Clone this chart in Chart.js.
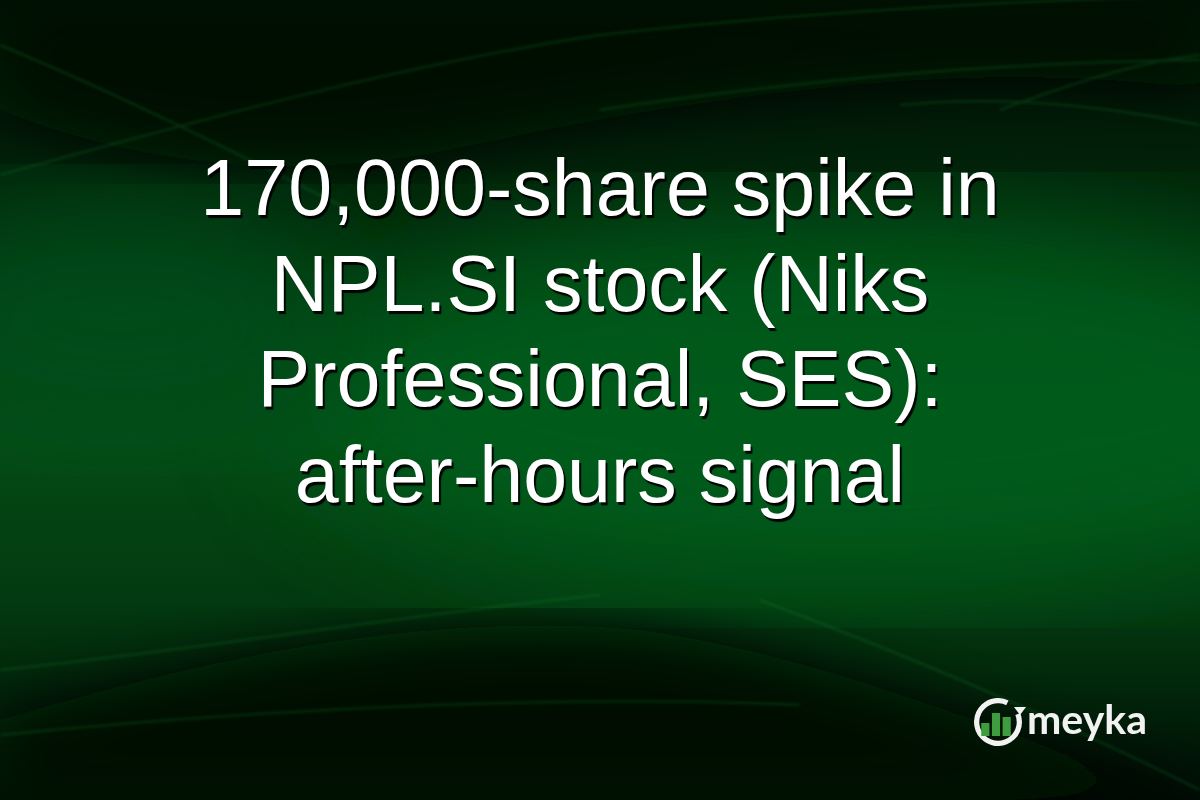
<!DOCTYPE html>
<html>
<head>
<meta charset="utf-8">
<script src="https://cdn.jsdelivr.net/npm/chart.js@4.4.1/dist/chart.umd.min.js"></script>
<style>
  html, body { margin: 0; padding: 0; background: #021f09; }
  #stage { position: relative; width: 1200px; height: 800px; overflow: hidden; }
  #bg { position: absolute; left: 0; top: 0; }
  #title {
    position: absolute; left: 0; top: 140px; width: 1200px;
    text-align: center; color: #fff;
    font-family: "Liberation Sans", Arial, sans-serif; font-size: 79px; line-height: 95.5px;
    text-shadow: 2px 3px 1px rgba(0,0,0,0.95);
  }
  #ringBox { position: absolute; left: 974px; top: 698px; width: 48px; height: 48px; }
  #barBox { position: absolute; left: 980px; top: 705px; width: 32px; height: 31px; }
  #arrow {
    position: absolute; left: 1014px; top: 707px; width: 0; height: 0;
    border-left: 6px solid transparent; border-right: 6px solid transparent;
    border-top: 8px solid #f2f2f2;
  }
  #brand {
    position: absolute; left: 1027px; top: 694px; color: #f2f2f2;
    font-family: Lato, "Open Sans", sans-serif; font-weight: 700; font-size: 41px; line-height: 50px;
  }
</style>
</head>
<body>
<div id="stage">
  <svg id="bg" width="1200" height="800" viewBox="0 0 1200 800">
    <defs>
      <linearGradient id="base" x1="0" y1="0" x2="0" y2="1">
        <stop offset="0" stop-color="#010c03"/>
        <stop offset="0.3" stop-color="#022c0c"/>
        <stop offset="0.55" stop-color="#044a15"/>
        <stop offset="0.75" stop-color="#033a10"/>
        <stop offset="1" stop-color="#010d04"/>
      </linearGradient>
      <filter id="b60"><feGaussianBlur stdDeviation="60"/></filter>
      <filter id="b30"><feGaussianBlur stdDeviation="30"/></filter>
      <filter id="b2"><feGaussianBlur stdDeviation="1.5"/></filter>
    </defs>
    <rect width="1200" height="800" fill="url(#base)"/>
    <ellipse cx="850" cy="400" rx="560" ry="190" fill="#06601c" opacity="0.8" filter="url(#b60)"/>
    <ellipse cx="120" cy="320" rx="240" ry="130" fill="#05531a" opacity="0.7" filter="url(#b60)"/>
    <path d="M0,0 H1200 V90 C1000,60 750,85 450,150 C300,180 150,170 0,110 Z" fill="#000801" opacity="0.85" filter="url(#b30)"/>
    <path d="M0,800 V720 C200,660 420,610 640,630 C850,660 1000,740 1200,790 V800 Z" fill="#000c03" opacity="0.95" filter="url(#b30)"/>
    <g fill="none" stroke="#1c9a36" stroke-width="2" opacity="0.25" filter="url(#b2)">
      <path d="M0,175 C200,120 400,65 600,35 C800,12 1000,2 1200,-5"/>
      <path d="M600,110 C800,80 1000,62 1200,60"/>
      <path d="M900,105 C1000,95 1100,105 1200,125"/>
      <path d="M1000,110 C1080,80 1150,60 1200,55"/>
      <path d="M0,45 C120,95 230,150 340,205"/>
      <path d="M0,670 C200,650 400,615 600,595"/>
      <path d="M0,735 C300,705 600,695 800,705"/>
      <path d="M760,600 C920,660 1060,720 1200,790"/>
    </g>
  </svg>

  <div id="title">170,000-share spike in<br>NPL.SI stock (Niks<br>Professional, SES):<br>after-hours signal</div>

  <div id="ringBox"><canvas id="ringChart"></canvas></div>
  <div id="barBox"><canvas id="barChart"></canvas></div>
  <div id="arrow"></div>
  <div id="brand">meyka</div>
</div>

<script>
const ringParts = [318, 42];
const ringColors = ['#f2f2f2', 'rgba(0,0,0,0)'];
const barLabels = ['a', 'b', 'c'];
const barValues = [13, 23, 19];
const barColor = '#3f9c3f';

new Chart(document.getElementById('ringChart'), {
  type: 'doughnut',
  data: { labels: ['ring', 'gap'], datasets: [{ data: ringParts, backgroundColor: ringColors, borderWidth: 0 }] },
  options: {
    responsive: true, maintainAspectRatio: false, animation: false, cutout: '78%', rotation: 68,
    plugins: { legend: { display: false }, tooltip: { enabled: false } }
  }
});

new Chart(document.getElementById('barChart'), {
  type: 'bar',
  data: { labels: barLabels, datasets: [{ data: barValues, backgroundColor: barColor, categoryPercentage: 0.9, barPercentage: 0.85 }] },
  options: {
    responsive: true, maintainAspectRatio: false, animation: false,
    layout: { padding: 0 },
    plugins: { legend: { display: false }, tooltip: { enabled: false } },
    scales: { x: { display: false }, y: { display: false, min: 0, max: 31 } }
  }
});
</script>
</body>
</html>
